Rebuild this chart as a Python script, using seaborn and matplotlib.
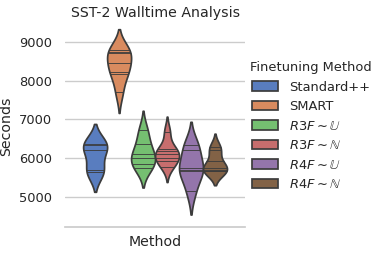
import pandas as pd
import matplotlib
matplotlib.use("Agg")
import matplotlib.pyplot as plt
import seaborn as sns

# walltime per run (seconds)
methods = ["Standard++", "SMART",
           r"$R3F \sim \mathbb{U}$", r"$R3F \sim \mathbb{N}$",
           r"$R4F \sim \mathbb{U}$", r"$R4F \sim \mathbb{N}$"]
standard_pp = [6370, 6345, 6210, 5695, 5650]
smart = [8790, 8740, 8700, 8440, 8230, 8180, 7700]
r3f_u = [6720, 6380, 6100, 6020, 5850, 5750]
r3f_n = [6680, 6250, 6190, 6100, 6000, 5930, 5780]
r4f_u = [6340, 6210, 5740, 5700, 5660, 5150]
r4f_n = [6280, 6210, 5920, 5740, 5710, 5680, 5660]

runs = [standard_pp, smart, r3f_u, r3f_n, r4f_u, r4f_n]
rows = []
for m, vals in zip(methods, runs):
    for v in vals:
        rows.append({"Method": "", "Seconds": v, "Finetuning Method": m})
df = pd.DataFrame(rows)

sns.set_theme(style="whitegrid", palette="muted", font_scale=0.85)
fig, ax = plt.subplots(figsize=(3.81, 2.58), dpi=100)
sns.violinplot(data=df, x="Method", y="Seconds", hue="Finetuning Method",
               inner="stick", palette="muted", ax=ax)
ax.set_ylim(4230, 9430)
ax.set_xticks([])
ax.set_xlabel("Method", labelpad=6)
ax.set_title("SST-2 Walltime Analysis")
sns.despine(left=True)
sns.move_legend(ax, "center left", bbox_to_anchor=(1.0, 0.5), frameon=False,
                borderaxespad=0.0, title_fontsize=9.35)
plt.subplots_adjust(left=0.171, right=0.643, top=0.903, bottom=0.12)
plt.savefig("out.png", dpi=100)
